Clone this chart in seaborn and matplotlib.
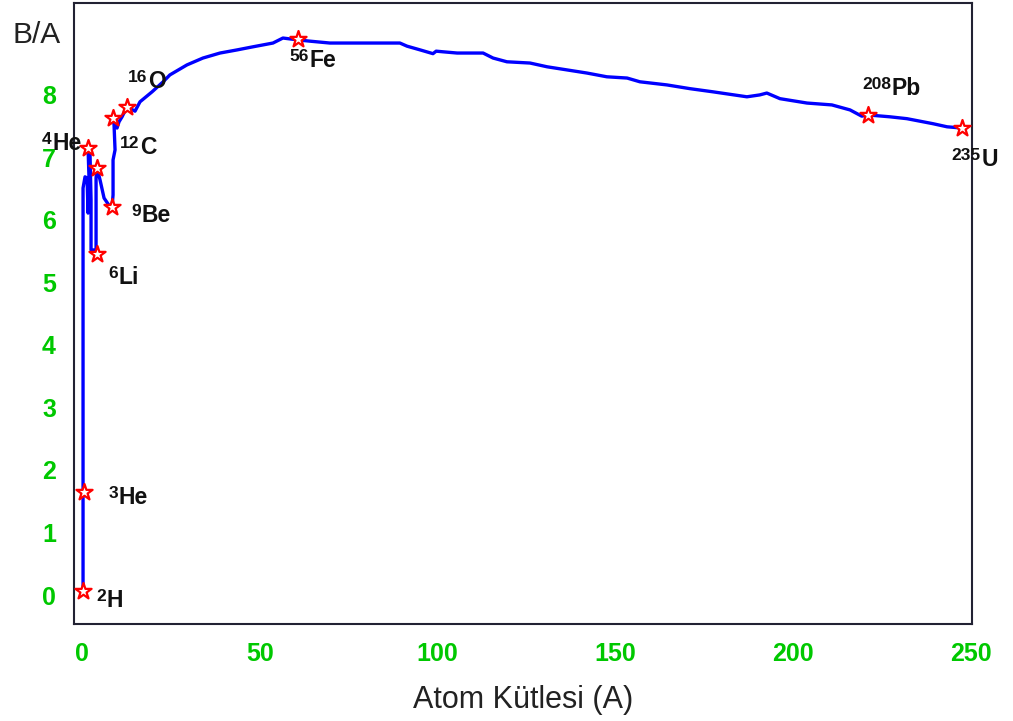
import matplotlib
matplotlib.use("Agg")
import matplotlib.pyplot as plt
from matplotlib.offsetbox import TextArea, HPacker, AnnotationBbox
import seaborn as sns
import pandas as pd

# binding energy per nucleon curve
mass_number = [0.28, 0.28, 0.84, 1.41, 1.69, 1.97, 1.69, 2.25, 2.53, 2.53, 3.94,
               3.94, 4.22, 5.06, 6.19, 7.87, 8.44, 8.72, 8.72, 9.28, 9.0, 8.72,
               9.84, 10.4, 11.25, 12.65, 14.9, 16.3, 19.7, 22.8, 24.7, 29.5, 34.0,
               38.8, 43.6, 48.1, 53.7, 56.5, 60.7, 64.1, 69.7, 89.4, 91.4, 95.1,
               98.7, 99.6, 101.5, 105.5, 112.8, 115.6, 119.5, 126.0, 130.8, 136.4,
               142.0, 147.6, 153.3, 156.9, 164.5, 171.0, 177.4, 187.0, 190.6, 192.6,
               196.3, 203.9, 210.9, 216.0, 219.3, 221.0, 227.2, 232.0, 239.3, 243.3,
               247.5]
binding = [0.06, 6.51, 6.69, 6.67, 6.11, 6.64, 7.15, 7.04, 6.32, 5.52, 5.52,
           6.67, 6.83, 6.64, 6.35, 6.21, 6.21, 6.40, 6.96, 7.12, 7.52, 7.63,
           7.47, 7.57, 7.65, 7.81, 7.74, 7.89, 8.05, 8.21, 8.32, 8.48, 8.59,
           8.67, 8.72, 8.77, 8.83, 8.91, 8.88, 8.86, 8.83, 8.83, 8.78, 8.72,
           8.66, 8.70, 8.69, 8.67, 8.67, 8.59, 8.53, 8.51, 8.45, 8.40,
           8.35, 8.29, 8.27, 8.21, 8.16, 8.10, 8.05, 7.97, 8.00, 8.03,
           7.94, 7.87, 7.84, 7.76, 7.66, 7.68, 7.65, 7.62, 7.54, 7.49,
           7.47]

# marked nuclei (7Li carries no label in the picture)
nuclide_mass = ["2", "3", "4", "6", "", "9", "12", "16", "56", "208", "235"]
nuclide_symbol = ["H", "He", "He", "Li", "", "Be", "C", "O", "Fe", "Pb", "U"]
nuclide_a = [0.28, 0.45, 1.69, 4.22, 4.22, 8.44, 8.72, 12.65, 60.7, 221.0, 247.5]
nuclide_ba = [0.06, 1.65, 7.15, 5.46, 6.83, 6.21, 7.63, 7.81, 8.90, 7.68, 7.47]

x_ticks = [0, 50, 100, 150, 200, 250]
y_ticks = [0, 1, 2, 3, 4, 5, 6, 7, 8]

# label offsets from the stars, in points
label_offsets = [(19, -7), (32, -4), (-19, 3), (19, -17), (0, 0), (28, -6),
                 (18, -21), (14, 18), (11, -16), (17, 19), (9, -23)]

sns.set_theme(style="white")
plt.rcParams["font.family"] = ["Liberation Sans", "DejaVu Sans"]

curve = pd.DataFrame({"A": mass_number, "BA": binding})
stars = pd.DataFrame({"A": nuclide_a, "BA": nuclide_ba})

fig = plt.figure(figsize=(10.13, 7.21), dpi=100)
ax = fig.add_axes([0.0731, 0.1345, 0.8864, 0.8613])

sns.lineplot(data=curve, x="A", y="BA", sort=False, estimator=None,
             color="#0000ff", linewidth=2.4, ax=ax)
sns.scatterplot(data=stars, x="A", y="BA", marker="*", s=150,
                facecolor="white", edgecolor="#ff0000", linewidth=1.6,
                zorder=3, ax=ax)

for num, sym, a, ba, off in zip(nuclide_mass, nuclide_symbol, nuclide_a,
                                nuclide_ba, label_offsets):
    if not sym:
        continue
    sup = TextArea(num, textprops=dict(fontsize=12.5, fontweight="bold", color="#111111"))
    main = TextArea(sym, textprops=dict(fontsize=16.5, fontweight="bold", color="#111111"))
    box = HPacker(children=[sup, main], align="top", pad=0, sep=0.5)
    ab = AnnotationBbox(box, (a, ba), xybox=off, boxcoords="offset points",
                        frameon=False, box_alignment=(0.5, 0.5),
                        annotation_clip=False, zorder=4)
    ax.add_artist(ab)

ax.set_xlim(-2.25, 250.3)
ax.set_ylim(-0.464, 9.47)
ax.set_xticks(x_ticks)
ax.set_yticks(y_ticks)
ax.tick_params(axis="both", length=0, labelsize=18, labelcolor="#00c800", pad=13)
for lab in ax.get_xticklabels() + ax.get_yticklabels():
    lab.set_fontweight("bold")
ax.set_xlabel("")
ax.set_ylabel("")

for sp in ax.spines.values():
    sp.set_visible(True)
    sp.set_color("#222233")
    sp.set_linewidth(1.5)

fig.text(0.0365, 0.951, "B/A", ha="center", va="center", fontsize=21.5, color="#222222")
fig.text(0.516, 0.029, "Atom Kütlesi (A)", ha="center", va="center",
         fontsize=22, color="#222222")

fig.savefig("out.png", dpi=100)
